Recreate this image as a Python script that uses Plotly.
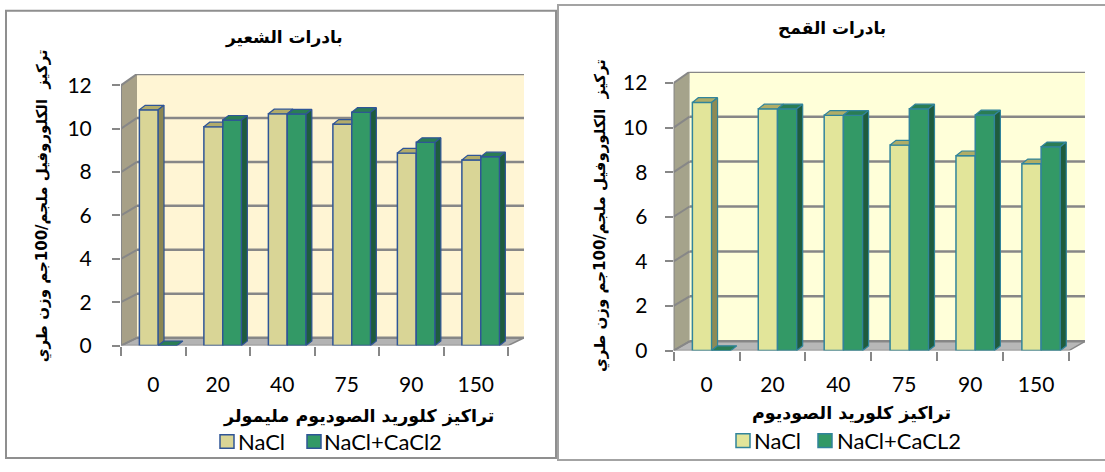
import plotly.graph_objects as go

W, H = 1105, 472

# ---- data -------------------------------------------------------------
categories = ["0", "20", "40", "75", "90", "150"]
y_ticks = [0, 2, 4, 6, 8, 10, 12]

barley_nacl = [10.87, 10.09, 10.69, 10.21, 8.88, 8.56]
barley_nacl_cacl2 = [0, 10.40, 10.68, 10.76, 9.37, 8.71]

wheat_nacl = [11.13, 10.84, 10.55, 9.22, 8.74, 8.38]
wheat_nacl_cacl2 = [0, 10.84, 10.55, 10.84, 10.57, 9.14]

barley_names = ["NaCl", "NaCl+CaCl2"]
wheat_names = ["NaCl", "NaCl+CaCL2"]

barley_title = "بادرات الشعير"
wheat_title = "بادرات القمح"
barley_xtitle = "تراكيز كلوريد الصوديوم مليمولر"
wheat_xtitle = "تراكيز كلوريد الصوديوم"
ytitle = "تركيز  الكلوروفيل ملجم/100جم وزن طري"

# ---- styling ----------------------------------------------------------
AR_FONT = "DejaVu Sans"
NUM_FONT = "Lato"
GRID = "#878787"
GREEN = dict(front="#339966", top="#2a7d54", side="#1f5c3d")

panels = [
    dict(xa="x", ya="y", xkey="xaxis", ykey="yaxis",
         series=(barley_nacl, barley_nacl_cacl2), names=barley_names,
         title=barley_title, xtitle=barley_xtitle,
         fx0=121, fx1=508, fy0=353.3, fy12=85.7, ddx=16, dyb=8, dyt=11.7,
         xstand=24, ystand=16,
         wall="#fff5d4", side_wall="#a7a087", floor="#b3b3b3",
         outline="#2f5597",
         nacl=dict(front="#d9d596", top="#b2ac6a", side="#8b8652"),
         title_xy=(284, 37), xtitle_xy=(358, 426), ytitle_xy=(42, 210),
         legend=dict(y=452, sw=[220, 307], tx=[236, 322]),
         box=(6, 9, 556, 469), box_color="#8f8f8f"),
    dict(xa="x2", ya="y2", xkey="xaxis2", ykey="yaxis2",
         series=(wheat_nacl, wheat_nacl_cacl2), names=wheat_names,
         title=wheat_title, xtitle=wheat_xtitle,
         fx0=673.6, fx1=1069, fy0=358.4, fy12=83.3, ddx=16, dyb=9.5, dyt=11.6,
         xstand=19, ystand=13,
         wall="#ffffd9", side_wall="#a5a38b", floor="#b8b8b8",
         outline="#31849b",
         nacl=dict(front="#e2e59a", top="#b0ad66", side="#8d8b55"),
         title_xy=(832, 27), xtitle_xy=(851, 423), ytitle_xy=(601, 220),
         legend=dict(y=451, sw=[736, 818], tx=[752, 835]),
         box=(558, 3, 1110, 471), box_color="#a3a3a3"),
]

BAR_OFFSET = -0.215
BAR_WIDTH = 0.292
TOP_DX = 0.09   # depth of a bar's top face, in category units
TOP_DY = 0.21   # rise of a bar's top face, in value units


def px(x):
    return x / W


def py(y):
    return 1 - y / H


fig = go.Figure()
shapes = []
annotations = []

for p in panels:
    n = len(categories)
    unit_x = (p["fx1"] - p["fx0"]) / n
    unit_y = (p["fy0"] - p["fy12"]) / 12
    dxu = p["ddx"] / unit_x

    def back(x, v, p=p, unit_y=unit_y, dxu=dxu):
        dy = p["dyb"] + (p["dyt"] - p["dyb"]) * v / 12
        return x + dxu, v + dy / unit_y

    x_lo, x_hi = -0.5, n - 0.5
    y_top = 12 + p["dyt"] / unit_y

    # walls and floor of the box
    def path(pts):
        return "M " + " L ".join(f"{a},{b}" for a, b in pts) + " Z"

    ref = dict(xref=p["xa"], yref=p["ya"], layer="below")
    bl0, br0 = back(x_lo, 0), back(x_hi, 0)
    bl12, br12 = back(x_lo, 12), back(x_hi, 12)
    shapes.append(dict(type="path", path=path([bl0, br0, br12, bl12]),
                       fillcolor=p["wall"], line=dict(width=0), **ref))
    shapes.append(dict(type="path", path=path([(x_lo, 0), (x_lo, 12), bl12, bl0]),
                       fillcolor=p["side_wall"], line=dict(width=0), **ref))
    shapes.append(dict(type="path", path=path([(x_lo, 0), (x_hi, 0), br0, bl0]),
                       fillcolor=p["floor"], line=dict(color=GRID, width=1.5), **ref))
    for v in y_ticks:
        b0, b1 = back(x_lo, v), back(x_hi, v)
        shapes.append(dict(type="line", x0=b0[0], y0=b0[1], x1=b1[0], y1=b1[1],
                           line=dict(color=GRID, width=2.5), **ref))
        shapes.append(dict(type="line", x0=x_lo, y0=v, x1=b0[0], y1=b0[1],
                           line=dict(color=GRID, width=2), **ref))
    shapes.append(dict(type="line", x0=x_lo, y0=0, x1=x_lo, y1=12,
                       line=dict(color=GRID, width=2), **ref))

    # bars: front faces
    nacl, mix = p["series"]
    idx = list(range(n))
    styles = [p["nacl"], GREEN]
    offsets = [BAR_OFFSET, BAR_OFFSET + BAR_WIDTH]
    for vals, st, off, name in zip((nacl, mix), styles, offsets, p["names"]):
        fig.add_trace(go.Bar(
            x=idx, y=vals, offset=off, width=BAR_WIDTH, name=name,
            marker=dict(color=st["front"], line=dict(color=p["outline"], width=1.5)),
            xaxis=p["xa"], yaxis=p["ya"], showlegend=False, hoverinfo="skip"))

    # bars: top and side faces
    faces = {("nacl", "top"): ([], []), ("nacl", "side"): ([], []),
             ("mix", "top"): ([], []), ("mix", "side"): ([], [])}

    def add(key, pts):
        xs, ys = faces[key]
        for a, b in pts:
            xs.append(a)
            ys.append(b)
        xs.append(pts[0][0])
        ys.append(pts[0][1])
        xs.append(None)
        ys.append(None)

    for i in idx:
        v, g = nacl[i], mix[i]
        xl = i + BAR_OFFSET
        xr = xl + BAR_WIDTH
        xr2 = xr + BAR_WIDTH
        # NaCl top face, hidden behind the neighbour where it is taller
        if g > v:
            add(("nacl", "top"), [(xl, v), (xr, v), (xr, v + TOP_DY),
                                  (xl + TOP_DX, v + TOP_DY)])
        else:
            add(("nacl", "top"), [(xl, v), (xr, v), (xr + TOP_DX, v + TOP_DY),
                                  (xl + TOP_DX, v + TOP_DY)])
            add(("nacl", "side"), [(xr, g), (xr, v), (xr + TOP_DX, v + TOP_DY),
                                   (xr + TOP_DX, g + TOP_DY)])
        add(("mix", "top"), [(xr, g), (xr2, g), (xr2 + TOP_DX, g + TOP_DY),
                             (xr + TOP_DX, g + TOP_DY)])
        if g > 0:
            add(("mix", "side"), [(xr2, 0), (xr2, g), (xr2 + TOP_DX, g + TOP_DY),
                                  (xr2 + TOP_DX, TOP_DY)])

    for (ser, face), (xs, ys) in faces.items():
        st = p["nacl"] if ser == "nacl" else GREEN
        fig.add_trace(go.Scatter(
            x=xs, y=ys, mode="lines", fill="toself", fillcolor=st[face],
            line=dict(color=p["outline"], width=1.2),
            xaxis=p["xa"], yaxis=p["ya"], showlegend=False, hoverinfo="skip"))

    # axes
    fig.layout[p["xkey"]] = dict(
        domain=[px(p["fx0"]), px(p["fx1"] + p["ddx"])],
        range=[x_lo, x_hi + dxu], anchor=p["ya"],
        tickmode="array", tickvals=idx, ticktext=categories, ticks="",
        ticklabelstandoff=p["xstand"],
        tickfont=dict(family=NUM_FONT, size=21, color="black"),
        minor=dict(tickmode="array", tickvals=[i - 0.5 for i in range(n + 1)],
                   ticks="outside", ticklen=9, tickwidth=2, tickcolor=GRID),
        showgrid=False, zeroline=False, showline=False, fixedrange=True)
    fig.layout[p["ykey"]] = dict(
        domain=[py(p["fy0"]), py(p["fy12"] - p["dyt"])],
        range=[0, y_top], anchor=p["xa"],
        tickmode="array", tickvals=y_ticks, ticks="outside", ticklen=8,
        tickwidth=2, tickcolor=GRID, ticklabelstandoff=p["ystand"],
        tickfont=dict(family=NUM_FONT, size=21, color="black"),
        showgrid=False, zeroline=False, showline=False, fixedrange=True)

    # panel frame
    x0, y0, x1, y1 = p["box"]
    shapes.append(dict(type="rect", xref="paper", yref="paper",
                       x0=px(x0), x1=px(x1), y0=py(y0), y1=py(y1),
                       line=dict(color=p["box_color"], width=2), layer="below"))

    centred = dict(xref="paper", yref="paper", showarrow=False,
                   xanchor="center", yanchor="middle")
    # titles
    tx, ty = p["title_xy"]
    annotations.append(dict(x=px(tx), y=py(ty), text=f"<b>{p['title']}</b>",
                            font=dict(family=AR_FONT, size=17, color="black"), **centred))
    tx, ty = p["xtitle_xy"]
    annotations.append(dict(x=px(tx), y=py(ty), text=f"<b>{p['xtitle']}</b>",
                            font=dict(family=AR_FONT, size=17.5, color="black"), **centred))
    tx, ty = p["ytitle_xy"]
    annotations.append(dict(x=px(tx), y=py(ty), text=f"<b>{ytitle}</b>", textangle=-90,
                            font=dict(family=AR_FONT, size=15, color="black"), **centred))

    # legend
    lg = p["legend"]
    for sx, tx, st, name in zip(lg["sw"], lg["tx"], styles, p["names"]):
        shapes.append(dict(type="rect", xref="paper", yref="paper",
                           x0=px(sx), x1=px(sx + 14), y0=py(lg["y"] + 7), y1=py(lg["y"] - 7),
                           fillcolor=st["front"], line=dict(color=p["outline"], width=1.5)))
        annotations.append(dict(x=px(tx), y=py(lg["y"]), xref="paper", yref="paper",
                                xanchor="left", yanchor="middle", text=name, showarrow=False,
                                font=dict(family=NUM_FONT, size=22, color="black")))

fig.update_layout(
    width=W, height=H, margin=dict(l=0, r=0, t=0, b=0),
    paper_bgcolor="white", plot_bgcolor="rgba(0,0,0,0)",
    barmode="overlay", shapes=shapes, annotations=annotations,
    showlegend=False)

fig.write_html("out.html")
